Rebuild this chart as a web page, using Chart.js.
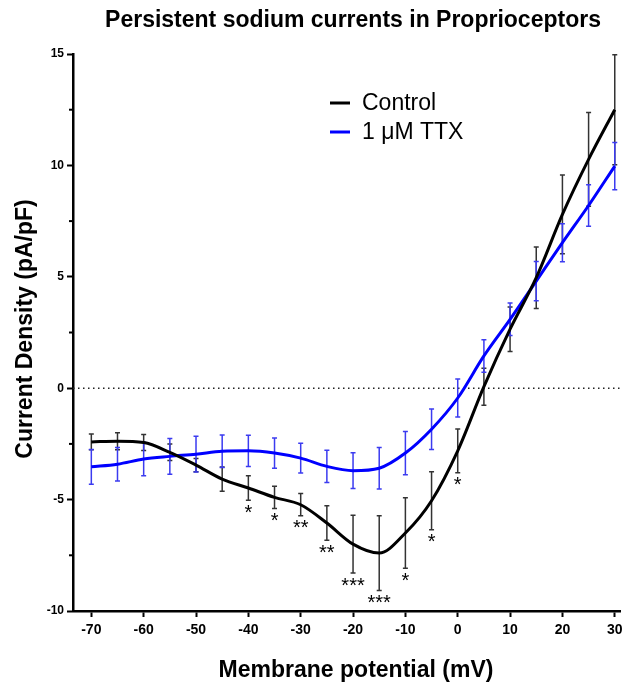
<!DOCTYPE html>
<html>
<head>
<meta charset="utf-8">
<script src="https://cdn.jsdelivr.net/npm/chart.js@4"></script>
<style>
  body { margin: 0; background: #fff; }
  #ivChart { display: block; }
</style>
</head>
<body>
<canvas id="ivChart" width="625" height="684"></canvas>
<script>
// membrane potential steps (mV)
const voltages = [-70, -65, -60, -55, -50, -45, -40, -35, -30, -25, -20, -15, -10, -5, 0, 5, 10, 15, 20, 25, 30];

// control, mean and SEM (pA/pF)
const control = [-2.41, -2.38, -2.44, -2.88, -3.45, -4.08, -4.48, -4.90, -5.23, -6.05, -7.00, -7.40, -6.50, -5.05, -2.81, 0.07, 2.65, 4.96, 7.80, 10.27, 12.50];
const controlErr = [0.35, 0.38, 0.36, 0.37, 0.30, 0.54, 0.55, 0.50, 0.50, 0.77, 1.30, 1.68, 1.58, 1.30, 0.98, 0.83, 1.00, 1.38, 1.77, 2.10, 2.47];

// 1 uM TTX, mean and SEM
const ttx = [-3.53, -3.41, -3.18, -3.06, -2.96, -2.83, -2.81, -2.91, -3.14, -3.51, -3.70, -3.59, -2.91, -1.84, -0.44, 1.45, 3.09, 4.81, 6.53, 8.20, 9.97];
const ttxErr = [0.78, 0.75, 0.75, 0.80, 0.80, 0.73, 0.70, 0.68, 0.67, 0.72, 0.80, 0.93, 0.97, 0.91, 0.85, 0.73, 0.73, 0.88, 0.85, 0.93, 1.06];

// significance marks under the control points
const stars = ["", "", "", "", "", "", "*", "*", "**", "**", "***", "***", "*", "*", "*", "", "", "", "", "", ""];

const xTicks = [-70, -60, -50, -40, -30, -20, -10, 0, 10, 20, 30];
const yTicks = [-10, -5, 0, 5, 10, 15];
const yMinorTicks = [-7.5, -2.5, 2.5, 7.5, 12.5];

const FONT = "'Liberation Sans', Arial, sans-serif";

function toPoints(ys) {
    return voltages.map((v, i) => ({ x: v, y: ys[i] }));
}

const extras = {
    id: "extras",
    beforeDatasetsDraw(chart) {
        const ctx = chart.ctx;
        const xs = chart.scales.x, ys = chart.scales.y;
        const area = chart.chartArea;

        // dotted zero line
        ctx.save();
        ctx.strokeStyle = "#222";
        ctx.lineWidth = 1.5;
        ctx.setLineDash([1.5, 3.5]);
        ctx.beginPath();
        ctx.moveTo(area.left, ys.getPixelForValue(0));
        ctx.lineTo(area.right, ys.getPixelForValue(0));
        ctx.stroke();
        ctx.restore();

        // error bars
        const sets = [
            { mean: control, err: controlErr, color: "#333333" },
            { mean: ttx, err: ttxErr, color: "#3b3bf0" }
        ];
        ctx.save();
        ctx.lineWidth = 1.5;
        sets.forEach(s => {
            ctx.strokeStyle = s.color;
            voltages.forEach((v, i) => {
                const px = xs.getPixelForValue(v);
                const top = ys.getPixelForValue(s.mean[i] + s.err[i]);
                const bot = ys.getPixelForValue(s.mean[i] - s.err[i]);
                ctx.beginPath();
                ctx.moveTo(px, top); ctx.lineTo(px, bot);
                ctx.moveTo(px - 2.5, top); ctx.lineTo(px + 2.5, top);
                ctx.moveTo(px - 2.5, bot); ctx.lineTo(px + 2.5, bot);
                ctx.stroke();
            });
        });
        ctx.restore();
    },
    afterDraw(chart) {
        const ctx = chart.ctx;
        const xs = chart.scales.x, ys = chart.scales.y;

        ctx.save();
        // minor y ticks
        ctx.strokeStyle = "#000";
        ctx.lineWidth = 2;
        yMinorTicks.forEach(t => {
            const py = ys.getPixelForValue(t);
            ctx.beginPath();
            ctx.moveTo(xs.left - 4, py);
            ctx.lineTo(xs.left, py);
            ctx.stroke();
        });

        // stars
        ctx.fillStyle = "#000";
        ctx.font = "20px " + FONT;
        ctx.textAlign = "center";
        ctx.textBaseline = "top";
        stars.forEach((s, i) => {
            if (!s) return;
            const px = xs.getPixelForValue(voltages[i]);
            const py = ys.getPixelForValue(control[i] - controlErr[i]);
            ctx.fillText(s, px, py + 3);
        });

        // title and axis titles
        ctx.textBaseline = "alphabetic";
        ctx.font = "bold 23px " + FONT;
        ctx.fillText("Persistent sodium currents in Proprioceptors", 353, 27);
        ctx.fillText("Membrane potential (mV)", 356, 677);
        ctx.save();
        ctx.translate(32, 329);
        ctx.rotate(-Math.PI / 2);
        ctx.fillText("Current Density (pA/pF)", 0, 0);
        ctx.restore();

        // legend
        const legend = [["Control", "#000"], ["1 \u03bcM TTX", "#0000ff"]];
        ctx.textAlign = "left";
        ctx.textBaseline = "middle";
        ctx.font = "23px " + FONT;
        legend.forEach((item, k) => {
            const ly = 103 + k * 29;
            ctx.strokeStyle = item[1];
            ctx.lineWidth = 3;
            ctx.beginPath();
            ctx.moveTo(330, ly); ctx.lineTo(350, ly);
            ctx.stroke();
            ctx.fillStyle = "#000";
            ctx.fillText(item[0], 362, ly + 1);
        });
        ctx.restore();
    }
};

new Chart(document.getElementById("ivChart"), {
    type: "line",
    data: {
        datasets: [{
            label: "Control",
            data: toPoints(control),
            borderColor: "#000000",
            borderWidth: 3,
            pointRadius: 0,
            cubicInterpolationMode: "monotone"
        }, {
            label: "1 \u03bcM TTX",
            data: toPoints(ttx),
            borderColor: "#0000ff",
            borderWidth: 3,
            pointRadius: 0,
            cubicInterpolationMode: "monotone"
        }]
    },
    options: {
        responsive: false,
        animation: false,
        layout: { padding: { top: 54, right: 5, left: 0, bottom: 0 } },
        plugins: {
            legend: { display: false },
            tooltip: { enabled: false }
        },
        scales: {
            x: {
                type: "linear",
                min: -73.5,
                max: 31,
                afterFit: s => { s.height = 73; s.paddingRight = 0; s.paddingLeft = 0; },
                afterBuildTicks: s => { s.ticks = xTicks.map(v => ({ value: v })); },
                border: { display: true, color: "#000", width: 2.5 },
                grid: { drawOnChartArea: false, drawTicks: true, tickLength: 6, tickWidth: 2, tickColor: "#000" },
                ticks: { color: "#000", font: { family: FONT, size: 14, weight: "bold" }, padding: 5, maxRotation: 0 }
            },
            y: {
                min: -10,
                max: 15,
                afterFit: s => { s.width = 73; },
                afterBuildTicks: s => { s.ticks = yTicks.map(v => ({ value: v })); },
                border: { display: true, color: "#000", width: 2.5 },
                grid: { drawOnChartArea: false, drawTicks: true, tickLength: 6, tickWidth: 2, tickColor: "#000" },
                ticks: { color: "#000", font: { family: FONT, size: 12, weight: "bold" }, padding: 3 }
            }
        }
    },
    plugins: [extras]
});
</script>
</body>
</html>
